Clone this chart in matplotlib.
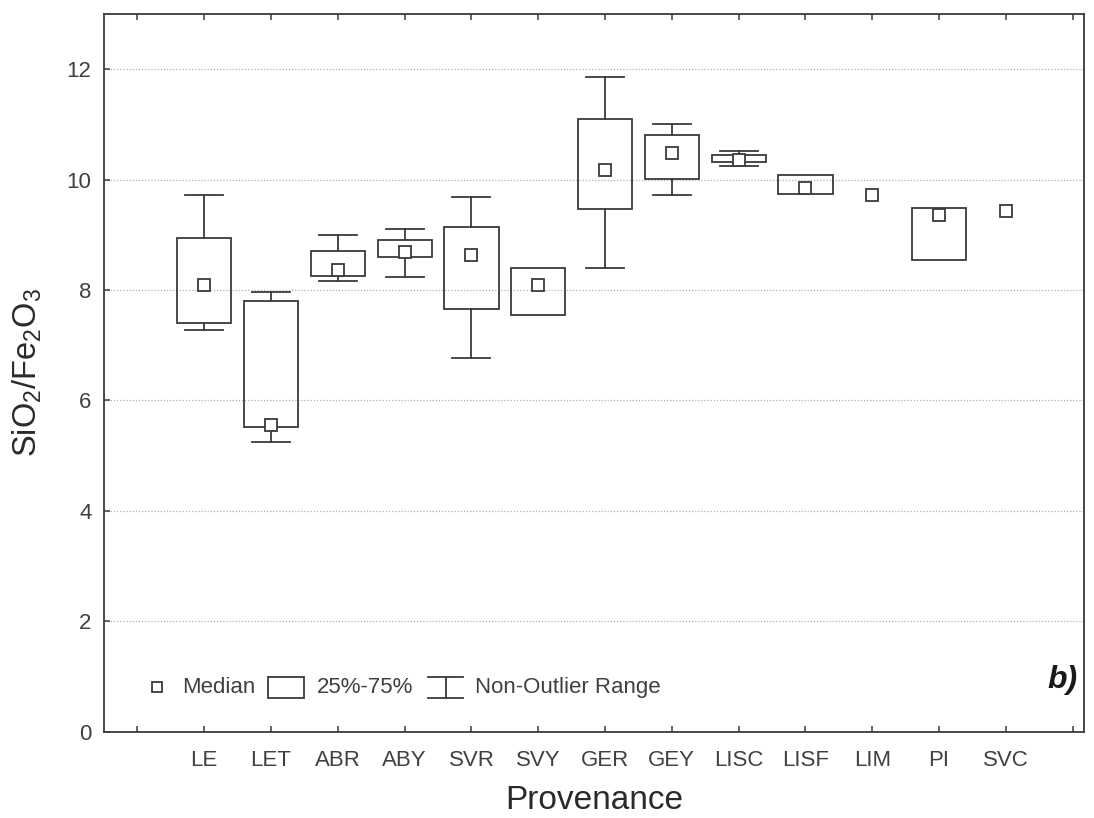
import matplotlib
matplotlib.use("Agg")
import matplotlib.pyplot as plt
from matplotlib.patches import Rectangle
from matplotlib.lines import Line2D

# ---- data ----
categories = ["LE", "LET", "ABR", "ABY", "SVR", "SVY", "GER", "GEY",
              "LISC", "LISF", "LIM", "PI", "SVC"]
whisker_low = [7.27, 5.24, 8.16, 8.23, 6.76, 7.54, 8.39, 9.72, 10.25, 9.74, 9.73, 8.55, 9.43]
q1 = [7.41, 5.52, 8.26, 8.60, 7.66, 7.54, 9.46, 10.02, 10.32, 9.74, 9.73, 8.55, 9.43]
median = [8.09, 5.55, 8.37, 8.68, 8.63, 8.10, 10.17, 10.48, 10.36, 9.85, 9.73, 9.36, 9.43]
q3 = [8.95, 7.81, 8.70, 8.90, 9.15, 8.39, 11.09, 10.80, 10.45, 10.08, 9.73, 9.49, 9.43]
whisker_high = [9.72, 7.96, 9.00, 9.10, 9.68, 8.39, 11.85, 11.01, 10.52, 10.08, 9.73, 9.49, 9.43]
y_ticks = [0, 2, 4, 6, 8, 10, 12]

plt.rcParams['font.family'] = ['Liberation Sans', 'DejaVu Sans']
plt.rcParams['mathtext.default'] = 'regular'

LC = '#3a3a3a'
TC = '#404040'
LW = 1.3
BOX_W = 0.81
CAP_W = 0.57

fig = plt.figure(figsize=(10.94, 8.18), dpi=100)
ax = fig.add_axes([0.0951, 0.1055, 0.8958, 0.8774])

positions = list(range(1, len(categories) + 1))
for x, lo, a, m, b, hi in zip(positions, whisker_low, q1, median, q3, whisker_high):
    if b > a:
        ax.add_patch(Rectangle((x - BOX_W / 2, a), BOX_W, b - a, fill=False,
                               edgecolor=LC, lw=LW, zorder=3))
    if hi > b:
        ax.plot([x, x], [b, hi], color=LC, lw=LW, zorder=3)
        ax.plot([x - CAP_W / 2, x + CAP_W / 2], [hi, hi], color=LC, lw=LW, zorder=3)
    if lo < a:
        ax.plot([x, x], [lo, a], color=LC, lw=LW, zorder=3)
        ax.plot([x - CAP_W / 2, x + CAP_W / 2], [lo, lo], color=LC, lw=LW, zorder=3)
    ax.plot([x], [m], marker='s', ms=8.2, mfc='white', mec=LC, mew=LW, zorder=4)

ax.set_xlim(-0.5, 14.17)
ax.set_ylim(0, 13)
ax.set_xticks(list(range(0, 15)))
ax.set_xticklabels([''] + categories + [''])
ax.set_yticks(y_ticks)
ax.set_yticklabels([str(t) for t in y_ticks])

for yv in y_ticks[1:]:
    ax.axhline(yv, color='#b0b0b0', lw=0.9, ls=(0, (1, 1.5)), zorder=1)

ax.tick_params(axis='both', direction='in', length=4, width=1.1, color=LC,
               labelsize=16, labelcolor=TC)
ax.tick_params(axis='x', top=True, pad=13)
ax.tick_params(axis='y', pad=9)
for s in ax.spines.values():
    s.set_color(LC)
    s.set_linewidth(1.3)

ax.set_xlabel('Provenance', fontsize=24, color='#2a2a2a', labelpad=10)
ax.set_ylabel(r'SiO$_2$/Fe$_2$O$_3$', fontsize=23.5, color='#2a2a2a', labelpad=16)

# ---- legend (drawn manually, axes-fraction coordinates) ----
tr = ax.transAxes
ax.add_line(Line2D([0.0541], [0.0616], transform=tr, marker='s', ms=7.5, mfc='white',
                   mec=LC, mew=LW))
ax.text(0.0796, 0.0616, 'Median', transform=tr, fontsize=16, color=TC, va='center', ha='left')
ax.add_patch(Rectangle((0.167, 0.047), 0.037, 0.029, transform=tr, fill=False,
                       edgecolor=LC, lw=LW))
ax.text(0.217, 0.0616, '25%-75%', transform=tr, fontsize=16, color=TC, va='center', ha='left')
ax.add_line(Line2D([0.331, 0.366], [0.076, 0.076], transform=tr, color=LC, lw=LW))
ax.add_line(Line2D([0.331, 0.366], [0.047, 0.047], transform=tr, color=LC, lw=LW))
ax.add_line(Line2D([0.3485, 0.3485], [0.047, 0.076], transform=tr, color=LC, lw=LW))
ax.text(0.379, 0.0616, 'Non-Outlier Range', transform=tr, fontsize=16, color=TC,
        va='center', ha='left')

ax.text(0.993, 0.072, 'b)', transform=tr, fontsize=23, fontweight='bold',
        fontstyle='italic', color='#1a1a1a', ha='right', va='center')

fig.savefig('out.png', dpi=100, facecolor='white')
